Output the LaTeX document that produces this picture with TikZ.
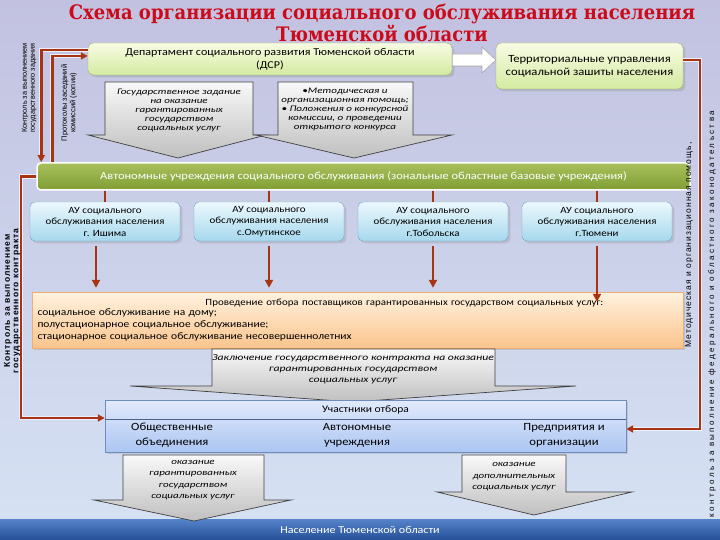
\documentclass[tikz,border=0pt]{standalone}
\usepackage{fontspec}
\setmainfont[FakeStretch=1.15]{Carlito}
\newfontfamily\itfont[FakeStretch=1.3]{Carlito}
\newfontfamily\titlefont[FakeStretch=0.9]{DejaVu Serif}
\newfontfamily\vertfont{Liberation Sans}
\newfontfamily\vertspaced[LetterSpace=12]{Liberation Sans}
\newfontfamily\vertwide[LetterSpace=30]{Liberation Sans}
\usetikzlibrary{arrows.meta,shadows}

\definecolor{bgtop}{RGB}{194,194,224}
\definecolor{bgbot}{RGB}{214,226,244}
\definecolor{titlered}{RGB}{205,10,25}
\definecolor{lgtop}{RGB}{248,252,228}
\definecolor{lgbot}{RGB}{212,234,160}
\definecolor{lgline}{RGB}{150,180,90}
\definecolor{olivetop}{RGB}{168,192,92}
\definecolor{olivebot}{RGB}{128,158,52}
\definecolor{cyantop}{RGB}{236,248,252}
\definecolor{cyanbot}{RGB}{166,216,238}
\definecolor{cyanline}{RGB}{110,165,195}
\definecolor{orgtop}{RGB}{255,242,224}
\definecolor{orgbot}{RGB}{250,196,140}
\definecolor{orgline}{RGB}{235,175,115}
\definecolor{bluetop}{RGB}{226,234,252}
\definecolor{bluebot}{RGB}{172,198,242}
\definecolor{blueline}{RGB}{110,140,190}
\definecolor{navytop}{RGB}{84,130,200}
\definecolor{navybot}{RGB}{36,78,150}
\definecolor{linered}{RGB}{168,52,20}
\definecolor{lineglow}{RGB}{235,240,252}

\begin{document}
\begin{tikzpicture}[x=1pt,y=-1pt,
  greenbox/.style={draw=lgline, rounded corners=5pt, top color=lgtop, bottom color=lgbot, drop shadow={opacity=0.25}, align=center, inner sep=1pt},
  aubox/.style={draw=cyanline, rounded corners=5pt, top color=cyantop, bottom color=cyanbot, drop shadow={opacity=0.25}, align=center, minimum width=150pt, minimum height=39pt, inner sep=1pt, font=\fontsize{9.5}{11.5}\selectfont},
  grayarrow/.style={draw=black!75, line width=0.7pt, top color=white!95!gray, bottom color=gray!50},
  arrowtext/.style={align=center, inner sep=0pt},
  redline/.style={draw=linered, line width=2.6pt, preaction={draw=lineglow, line width=4.4pt}},
  redarrow/.style={draw=linered, line width=2.6pt, -{Triangle[length=8pt,width=8pt]}},
  redtip/.style={-{Triangle[length=7pt,width=7pt]}},
  vlabel/.style={rotate=90, align=center, inner sep=0pt}]
\useasboundingbox (0,0) rectangle (720,540);
\fill[top color=bgtop, bottom color=bgbot] (0,0) rectangle (720,540);
%%% title
\node[font=\titlefont\bfseries\fontsize{20}{20}\selectfont, text=titlered, align=center] (title) at (382,23)
{Схема организации социального обслуживания населения\\Тюменской области};
%%% top row: department and territorial offices
\node[greenbox, minimum width=364pt, minimum height=32pt, font=\fontsize{10.5}{13}\selectfont] (dsr) at (270,59)
{Департамент социального развития Тюменской области\\(ДСР)};
\node[greenbox, minimum width=187pt, minimum height=46pt, font=\fontsize{11}{13}\selectfont] (terr) at (589.5,66)
{Территориальные управления\\социальной зашиты населения};
\draw[fill=white, draw=gray!70, line width=0.6pt] (dsr.east |- 0,54) -- (482,54) -- (482,47) -- (terr.west |- 0,60) -- (482,73) -- (482,66) -- (dsr.east |- 0,66) -- cycle;
%%% two gray arrows under the department
\draw[grayarrow] (105,82) -- (253,82) -- (253,135) -- (266,135) -- (178,158) -- (88,135) -- (105,135) -- cycle;
\node[arrowtext, font=\itfont\itshape\fontsize{8.5}{9}\selectfont] (task) at (179,110)
{Государственное задание\\на оказание\\гарантированных\\государством\\социальных услуг};
\draw[grayarrow] (278,82) -- (413,82) -- (413,135) -- (452,135) -- (354,158) -- (256,135) -- (278,135) -- cycle;
\node[arrowtext, font=\itfont\itshape\fontsize{8.5}{9}\selectfont] (help) at (345,109)
{•Методическая и\\организационная помощь;\\• Положения о конкурсной\\комиссии, о проведении\\открытого конкурса};
%%% green band
\node[draw=white, line width=1.5pt, rounded corners=4pt, top color=olivetop, bottom color=olivebot, minimum width=653pt, minimum height=27pt, text=white, font=\fontsize{10.8}{13}\selectfont] (band) at (363.5,176.5)
{Автономные учреждения социального обслуживания (зональные областные базовые учреждения)};
%%% the four AU
\node[aubox] (ishim) at (105,221.5) {АУ социального\\обслуживания населения\\г. Ишима};
\node[aubox] (omut) at (269,221.5) {АУ социального\\обслуживания населения\\с.Омутинское};
\node[aubox] (tobol) at (433,221.5) {АУ социального\\обслуживания населения\\г.Тобольска};
\node[aubox] (tyumen) at (597,221.5) {АУ социального\\обслуживания населения\\г.Тюмени};
\draw[draw=linered, line width=2.5pt] (ishim.north |- band.south) -- (ishim.north);
\draw[draw=linered, line width=2.5pt] (omut.north |- band.south) -- (omut.north);
\draw[draw=linered, line width=2.5pt] (tobol.north |- band.south) -- (tobol.north);
\draw[draw=linered, line width=2.5pt] (tyumen.north |- band.south) -- (tyumen.north);
%%% selection of providers
\node[draw=orgline, top color=orgtop, bottom color=orgbot, drop shadow={opacity=0.25}, minimum width=651pt, minimum height=56pt, text width=640pt, align=left, inner sep=0pt, font=\fontsize{10}{12}\selectfont] (sel) at (357.5,320)
{\hspace*{168pt}{\fontsize{9.5}{12}\selectfont Проведение отбора поставщиков гарантированных государством социальных услуг:}\\[-1.5pt]
социальное обслуживание на дому;\\
полустационарное социальное обслуживание;\\
стационарное социальное обслуживание несовершеннолетних};
\draw[redarrow, shorten <=5pt, shorten >=4pt] ([xshift=-9pt]ishim.south) -- ([xshift=-9pt]ishim.south |- sel.north);
\draw[redarrow, shorten <=5pt, shorten >=4pt] (omut.south) -- (omut.south |- sel.north);
\draw[redarrow, shorten <=5pt, shorten >=4pt] (tobol.south) -- (tobol.south |- sel.north);
\draw[redarrow, shorten <=5pt, shorten >=-10pt] (tyumen.south) -- (tyumen.south |- sel.north);
%%% contract arrow
\draw[grayarrow] (212,349) -- (495,349) -- (495,386) -- (576,386) -- (353,402) -- (130,386) -- (212,386) -- cycle;
\node[arrowtext, font=\itfont\itshape\fontsize{9}{11}\selectfont] (contract) at (353,369)
{Заключение государственного контракта на оказание\\гарантированных государством\\социальных услуг};
%%% participants
\node[draw=blueline, top color=bluetop, bottom color=bluebot, minimum width=521pt, minimum height=52pt, drop shadow={opacity=0.25}] (part) at (365.5,426) {};
\draw[blueline!70!black, line width=0.6pt] (part.west |- 0,419) -- (part.east |- 0,419);
\node[font=\fontsize{10}{12}\selectfont] (parthead) at (365.5,410) {Участники отбора};
\node[align=center, font=\fontsize{11}{15}\selectfont] (pub) at (172,435) {Общественные\\объединения};
\node[align=center, font=\fontsize{11}{15}\selectfont] (auto) at (357,435) {Автономные\\учреждения};
\node[align=center, font=\fontsize{11}{15}\selectfont] (firm) at (564,435) {Предприятия и\\организации};
%%% population
\node[top color=navytop, bottom color=navybot, minimum width=720pt, minimum height=21pt, inner sep=0pt, text=white, font=\fontsize{10.5}{12}\selectfont] (people) at (360,530) {Население Тюменской области};
\draw[grayarrow] (123,455) -- (264,455) -- (264,500) -- (291,500) -- (194,521) -- (94,500) -- (123,500) -- cycle;
\node[arrowtext, font=\itfont\itshape\fontsize{8.5}{11.5}\selectfont] (guar) at (193,480)
{оказание\\гарантированных\\государством\\социальных услуг};
\draw[grayarrow] (462,455) -- (566,455) -- (566,492) -- (632,492) -- (534,515) -- (437,492) -- (462,492) -- cycle;
\node[arrowtext, font=\itfont\itshape\fontsize{8.5}{11.5}\selectfont] (extra) at (514,477)
{оказание\\дополнительных\\социальных услуг};
%%% control lines
\coordinate (lcorner) at (21,418);
\coordinate (rcorner) at (700,429);
\draw[redline, redtip] ([yshift=9pt]dsr.west) -| ([xshift=5pt]band.north west);
\draw[redline, redtip] ([xshift=16pt]band.north west) |- ([yshift=3pt]dsr.west);
\draw[redline, redtip] (band.west) -| (lcorner) -- ([yshift=8pt]part.west);
\draw[redline, redtip] ([yshift=6pt]terr.east) -| (rcorner) -- ([yshift=-3pt]part.east);
%%% vertical labels
\node[vlabel, font=\vertfont\fontsize{7.3}{8}\selectfont] (ctrltask) at (29,88) {Контроль за выполнением\\государственного задания};
\node[vlabel, font=\vertfont\fontsize{7.5}{8.5}\selectfont] (protocols) at (69,103) {Протоколы заседаний\\комиссий (копии)};
\node[vlabel, font=\vertspaced\bfseries\fontsize{8.5}{8.5}\selectfont] (ctrlcontract) at (12,301) {Контроль за выполнением\\государственного контракта};
\node[vlabel, font=\vertspaced\fontsize{8.5}{8}\selectfont] (methodhelp) at (689,245) {Методическая и организационная помощь,};
\node[vlabel, font=\vertwide\fontsize{8}{8}\selectfont] (lawctrl) at (712,314) {контроль за выполнение федерального и областного законодательства};
\end{tikzpicture}
\end{document}
